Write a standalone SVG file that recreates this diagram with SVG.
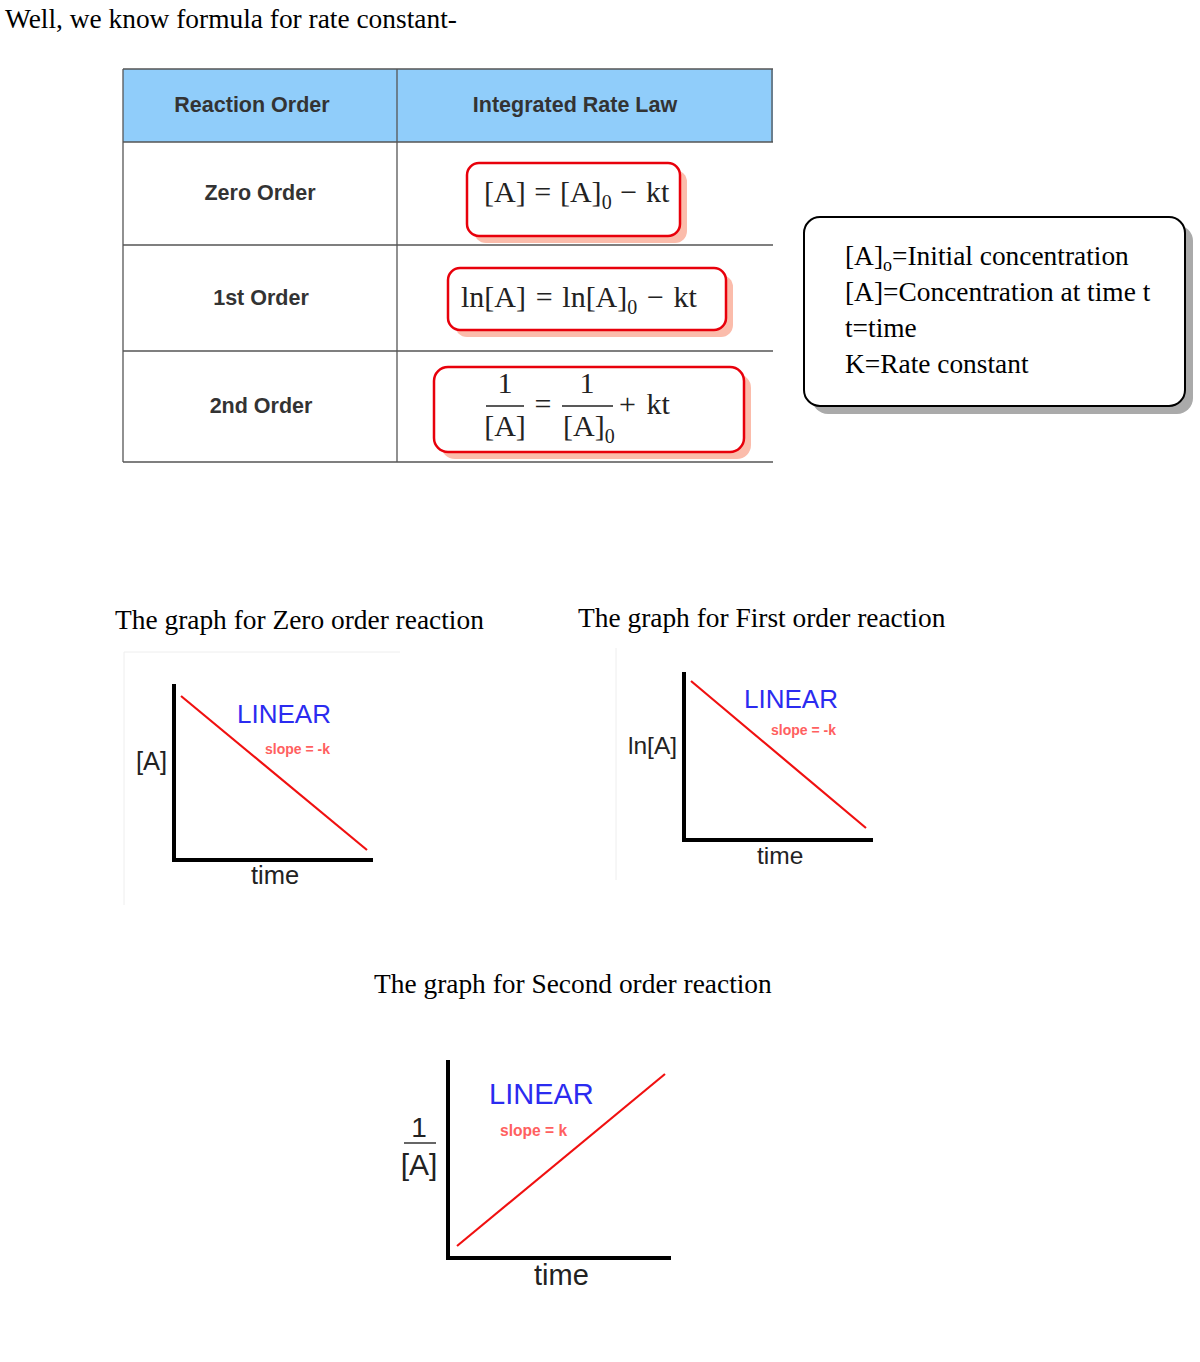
<svg xmlns="http://www.w3.org/2000/svg" width="1200" height="1362" viewBox="0 0 1200 1362">
<style>
.serif{font-family:"Liberation Serif","Times New Roman",serif;fill:#000;font-size:27.4px}
.hdr{font-family:"Liberation Sans",Arial,sans-serif;font-weight:bold;font-size:21.5px;fill:#333;text-anchor:middle}
.cell{font-family:"Liberation Sans",Arial,sans-serif;font-weight:bold;font-size:21.5px;fill:#333;text-anchor:middle}
.math{font-family:"Liberation Serif","Times New Roman",serif;font-size:30px;fill:#222}
.grid{stroke:#555;stroke-width:1.3;fill:none}
.fbox{fill:#fff;stroke:#e8000b;stroke-width:2.5}
.fshadow{fill:#fbbcab}
.axis{stroke:#000;stroke-width:4;fill:none}
.red{stroke:#f01010;stroke-width:2.2}
.lin{font-family:"Liberation Sans",Arial,sans-serif;font-size:26px;fill:#2b2bf0}
.slope{font-family:"Liberation Sans",Arial,sans-serif;font-size:14px;font-weight:bold;fill:#ff6060}
.lbl{font-family:"Liberation Sans",Arial,sans-serif;font-size:25.5px;fill:#222}
.faint{stroke:#eee;stroke-width:1}
</style>

<text class="serif" x="5" y="28">Well, we know formula for rate constant-</text>

<g id="table">
  <rect x="123" y="69" width="650" height="73" fill="#90cdfa"/>
  <line class="grid" x1="123" y1="69" x2="773" y2="69"/>
  <line class="grid" x1="123" y1="142" x2="773" y2="142"/>
  <line class="grid" x1="123" y1="245" x2="773" y2="245"/>
  <line class="grid" x1="123" y1="351" x2="773" y2="351"/>
  <line class="grid" x1="123" y1="462" x2="773" y2="462"/>
  <line class="grid" x1="123" y1="69" x2="123" y2="462"/>
  <line class="grid" x1="397" y1="69" x2="397" y2="462"/>
  <line class="grid" x1="772" y1="69" x2="772" y2="142"/>
  <text class="hdr" x="252" y="112">Reaction Order</text>
  <text class="hdr" x="575" y="112">Integrated Rate Law</text>
  <text class="cell" x="260" y="200">Zero Order</text>
  <text class="cell" x="261" y="305">1st Order</text>
  <text class="cell" x="261" y="413">2nd Order</text>
</g>

<g id="formula-zero">
  <rect class="fshadow" x="474" y="170" width="213" height="73" rx="12"/>
  <rect class="fbox" x="467" y="163" width="213" height="73" rx="12"/>
  <text class="math" x="484" y="202" word-spacing="1.2">[A] = [A]<tspan style="font-size:20px" dy="7">0</tspan><tspan dy="-7"> − kt</tspan></text>
</g>

<g id="formula-first">
  <rect class="fshadow" x="455" y="275" width="278" height="62" rx="12"/>
  <rect class="fbox" x="448" y="268" width="278" height="62" rx="12"/>
  <text class="math" x="461" y="307" word-spacing="2.2">ln[A] = ln[A]<tspan style="font-size:20px" dy="7">0</tspan><tspan dy="-7"> − kt</tspan></text>
</g>

<g id="formula-second">
  <rect class="fshadow" x="441" y="374" width="310" height="85" rx="14"/>
  <rect class="fbox" x="434" y="367" width="310" height="85" rx="14"/>
  <text class="math" x="505" y="393" text-anchor="middle">1</text>
  <line x1="486" y1="406" x2="524" y2="406" stroke="#222" stroke-width="1.5"/>
  <text class="math" x="505" y="436" text-anchor="middle">[A]</text>
  <text class="math" x="543" y="414" text-anchor="middle">=</text>
  <text class="math" x="587" y="393" text-anchor="middle">1</text>
  <line x1="562" y1="406" x2="613" y2="406" stroke="#222" stroke-width="1.5"/>
  <text class="math" x="563" y="436">[A]<tspan style="font-size:20px" dy="7">0</tspan></text>
  <text class="math" x="619" y="414" word-spacing="3">+ kt</text>
</g>

<g id="legend">
  <rect x="812" y="225" width="381" height="189" rx="16" fill="#aaa"/>
  <rect x="804" y="217" width="381" height="189" rx="16" fill="#fff" stroke="#000" stroke-width="2"/>
  <text class="serif" x="845" y="265">[A]<tspan style="font-size:18px" dy="6">o</tspan><tspan dy="-6">=Initial concentration</tspan></text>
  <text class="serif" x="845" y="301">[A]=Concentration at time t</text>
  <text class="serif" x="845" y="337">t=time</text>
  <text class="serif" x="845" y="373">K=Rate constant</text>
</g>

<text class="serif" x="115" y="629">The graph for Zero order reaction</text>
<text class="serif" x="578" y="627">The graph for First order reaction</text>
<text class="serif" x="374" y="993">The graph for Second order reaction</text>

<g id="graph-zero">
  <line class="faint" x1="124" y1="652" x2="400" y2="652"/>
  <line class="faint" x1="124" y1="652" x2="124" y2="905"/>
  <polyline class="axis" points="174,684 174,860 373,860"/>
  <line class="red" x1="181" y1="696" x2="367" y2="850"/>
  <text class="lin" x="237" y="723">LINEAR</text>
  <text class="slope" x="265" y="754">slope = -k</text>
  <text class="lbl" x="136" y="770">[A]</text>
  <text class="lbl" x="251" y="884">time</text>
</g>

<g id="graph-first">
  <line class="faint" x1="616" y1="648" x2="616" y2="880"/>
  <polyline class="axis" points="684,672 684,840 873,840"/>
  <line class="red" x1="691" y1="681" x2="866" y2="828"/>
  <text class="lin" x="744" y="708">LINEAR</text>
  <text class="slope" x="771" y="735">slope = -k</text>
  <text class="lbl" x="628" y="754" style="font-size:24.5px">ln[A]</text>
  <text class="lbl" x="757" y="864" style="font-size:24.5px">time</text>
</g>

<g id="graph-second">
  <polyline class="axis" points="448,1060 448,1258 671,1258"/>
  <line class="red" x1="457" y1="1246" x2="665" y2="1074"/>
  <text class="lin" x="489" y="1104" style="font-size:29px">LINEAR</text>
  <text class="slope" x="500" y="1136" style="font-size:15.6px">slope = k</text>
  <text class="lbl" x="419" y="1137" text-anchor="middle" style="font-size:28px">1</text>
  <line x1="404" y1="1143" x2="436" y2="1143" stroke="#333" stroke-width="1.5"/>
  <text class="lbl" x="419" y="1175" text-anchor="middle" style="font-size:30px">[A]</text>
  <text class="lbl" x="534" y="1285" style="font-size:29px">time</text>
</g>
</svg>
